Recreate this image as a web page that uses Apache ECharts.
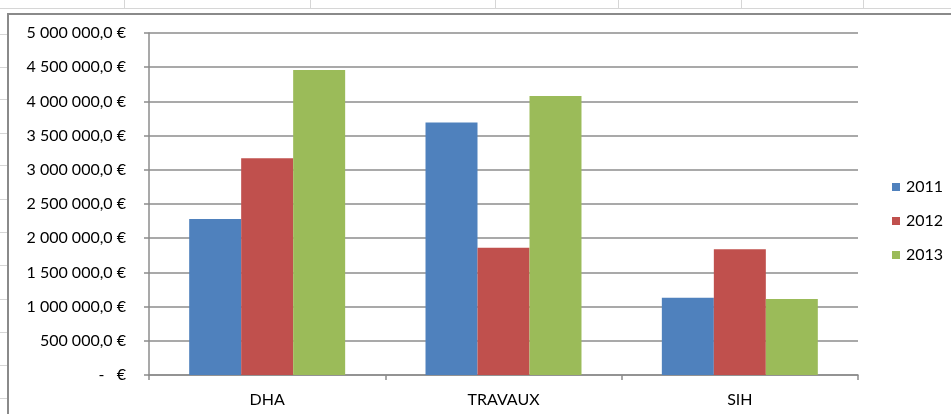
<!DOCTYPE html>
<html>
<head>
<meta charset="utf-8">
<script src="https://cdn.jsdelivr.net/npm/echarts@6/dist/echarts.min.js"></script>
<style>
  html, body { margin: 0; padding: 0; background: #fff; overflow: hidden; }
  #sheet { position: absolute; left: 0; top: 0; width: 951px; height: 414px; }
  .vl { position: absolute; top: 0; width: 1px; height: 9px; background: #d6d6d6; }
  .hl { position: absolute; left: 0; height: 1px; background: #d6d6d6; }
  #frame { position: absolute; left: 7px; top: 13px; width: 960px; height: 420px;
           background: #fff; border-left: 2px solid #8a8a8a; border-top: 2px solid #8a8a8a; }
  #main { position: absolute; left: 0; top: 0; width: 951px; height: 414px; }
</style>
</head>
<body>
<div id="sheet">
  <div class="hl" style="top:8px;width:951px"></div>
  <div class="vl" style="left:124px"></div>
  <div class="vl" style="left:310px"></div>
  <div class="vl" style="left:495px"></div>
  <div class="vl" style="left:618px"></div>
  <div class="vl" style="left:741px"></div>
  <div class="vl" style="left:863px"></div>
  <div class="hl" style="top:34px;width:7px"></div>
  <div class="hl" style="top:67px;width:7px"></div>
  <div class="hl" style="top:99px;width:7px"></div>
  <div class="hl" style="top:133px;width:7px"></div>
  <div class="hl" style="top:165px;width:7px"></div>
  <div class="hl" style="top:199px;width:7px"></div>
  <div class="hl" style="top:232px;width:7px"></div>
  <div class="hl" style="top:265px;width:7px"></div>
  <div class="hl" style="top:299px;width:7px"></div>
  <div class="hl" style="top:332px;width:7px"></div>
  <div class="hl" style="top:365px;width:7px"></div>
  <div class="hl" style="top:398px;width:7px"></div>
</div>
<div id="frame"></div>
<div id="main"></div>
<script>
// Budget per department, by year
const categories = ['DHA', 'TRAVAUX', 'SIH'];
const years = ['2011', '2012', '2013'];
const values2011 = [2280000, 3690000, 1130000];
const values2012 = [3170000, 1860000, 1840000];
const values2013 = [4460000, 4080000, 1110000];
const colors = ['#4F81BD', '#C0504D', '#9BBB59'];

const yMin = 0, yMax = 5000000, yStep = 500000;

function euro(v) {
  if (v === 0) return '-   €';
  const fixed = v.toFixed(1).split('.');
  const intPart = fixed[0].replace(/\B(?=(\d{3})+(?!\d))/g, ' ');
  return intPart + ',' + fixed[1] + ' €';
}

const font = 'Lato, "Open Sans", sans-serif';
const grey = '#8c8c8c';

const seriesData = [values2011, values2012, values2013];

const chart = echarts.init(document.getElementById('main'), null, { renderer: 'canvas' });
chart.setOption({
  backgroundColor: 'transparent',
  animation: false,
  color: colors,
  grid: { left: 149, right: 93, top: 33, bottom: 39, containLabel: false },
  legend: {
    orient: 'vertical',
    left: 887,
    top: 174,
    itemWidth: 8,
    itemHeight: 8,
    itemGap: 18,
    icon: 'rect',
    textStyle: { fontFamily: font, fontSize: 16, color: '#000', padding: [0, 0, 0, 1] },
    data: years
  },
  xAxis: {
    type: 'category',
    data: categories,
    axisLine: { lineStyle: { color: grey, width: 1.5 } },
    axisTick: { show: true, length: 5, lineStyle: { color: grey, width: 1.5 } },
    axisLabel: { fontFamily: font, fontSize: 16, color: '#000', margin: 17 }
  },
  yAxis: {
    type: 'value',
    min: yMin,
    max: yMax,
    interval: yStep,
    axisLine: { show: true, lineStyle: { color: grey, width: 1.5 } },
    axisTick: { show: true, length: 5, lineStyle: { color: grey, width: 1.5 } },
    splitLine: { lineStyle: { color: grey, width: 1.5 } },
    axisLabel: { fontFamily: font, fontSize: 16, color: '#000', margin: 23, formatter: euro }
  },
  series: years.map((y, i) => ({
    name: y,
    type: 'bar',
    data: seriesData[i],
    barGap: '0%',
    barCategoryGap: '34%',
    itemStyle: { color: colors[i] }
  }))
});
</script>
</body>
</html>
